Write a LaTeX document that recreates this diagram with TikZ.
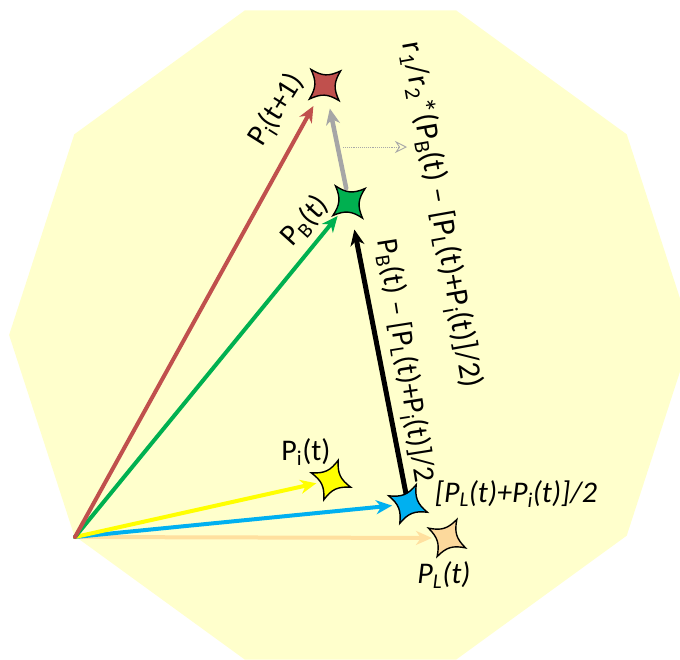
\documentclass[tikz,border=0pt]{standalone}
\usepackage{fontspec}
\setmainfont{Carlito}
\usetikzlibrary{arrows.meta}
\definecolor{bgyel}{HTML}{FFFFCC}
\definecolor{cred}{HTML}{C0504D}
\definecolor{cgreen}{HTML}{00B050}
\definecolor{cyel}{HTML}{FFFF00}
\definecolor{cblue}{HTML}{00B0F0}
\definecolor{cpeach}{HTML}{FFE09F}
\definecolor{cpeachstar}{HTML}{FCD99C}
\definecolor{cgray}{HTML}{A6A6A6}
\definecolor{cdot}{HTML}{A8A8A8}
\tikzset{
  vec/.style={line width=4pt, line cap=round, -{Stealth[length=16pt,width=14pt,inset=5pt]}},
  starline/.style={draw=black, line width=1.4pt, line join=miter},
  lbl/.style={font=\fontsize{30}{33}\selectfont, inner sep=0pt, text=black},
}
\newcommand\fstar[3]{%
  \draw[starline, fill=#3, shift={(#1)}, rotate=#2]
    (0,21) .. controls (3.8,8.4) and (8.4,3.8) .. (21,0)
    .. controls (8.4,-3.8) and (3.8,-8.4) .. (0,-21)
    .. controls (-3.8,-8.4) and (-8.4,-3.8) .. (-21,0)
    .. controls (-8.4,3.8) and (-3.8,8.4) .. (0,21) -- cycle;}
\begin{document}
\begin{tikzpicture}[x=1pt,y=-1pt]
\useasboundingbox (0,0) rectangle (680,659);
\begin{scope}
  \clip (0,0) rectangle (680,659);
  \fill[bgyel] (691.9,335) -- (626.7,134.3) -- (456.0,10.3) -- (245.0,10.3) -- (74.3,134.3)
    -- (9.1,335) -- (74.3,535.7) -- (245.0,659.7) -- (456.0,659.7) -- (626.7,535.7) -- cycle;
\end{scope}
% points
\coordinate (O) at (75,537);
\coordinate (rs) at (325,85);
\coordinate (gs) at (349,202);
\coordinate (ys) at (331,480);
\coordinate (bs) at (408,504);
\coordinate (ps) at (447,538);
\coordinate (da) at (343,147);
\coordinate (db) at (407,147);
% vectors
\draw[vec, cpeach, shorten >=15pt] (O) -- (ps);
\draw[vec, cblue, shorten >=16pt] (O) -- (bs);
\draw[vec, cyel, shorten >=15pt] (O) -- (ys);
\draw[vec, cgreen, shorten >=18pt] (O) -- (gs);
\draw[vec, cred, shorten >=24pt] (O) -- (rs);
\draw[vec, cgray, line width=4.5pt, shorten <=14pt, shorten >=24pt] (gs) -- (rs);
\draw[vec, black, line width=5pt, shorten <=10pt, shorten >=28pt] (bs) -- (gs);
\draw[cdot, line width=0.9pt, densely dotted, -{Stealth[open, length=12pt, width=12pt, inset=4pt, line width=0.9pt]}] (da) -- (db);
% stars
\fstar{rs}{42}{cred}
\fstar{gs}{40}{cgreen}
\fstar{ys}{-20}{cyel}
\fstar{bs}{-23}{cblue}
\fstar{ps}{-28}{cpeachstar}
% labels
\node[lbl, rotate=58] (lPi1) at (277,110) {P\textsubscript{i}(t+1)};
\node[lbl, rotate=48] (lPB) at (305,221) {P\textsubscript{B}(t)};
\node[lbl, rotate=-81] (ldiff) at (405,361) {P\textsubscript{B}(t) – [P\textsubscript{L}(t)+P\textsubscript{i}(t)]/2};
\node[lbl, font=\fontsize{31.5}{34}\selectfont, rotate=-80] (lr) at (441,215) {r\textsubscript{1}/r\textsubscript{2}*(P\textsubscript{B}(t) – [P\textsubscript{L}(t)+P\textsubscript{i}(t)]/2)};
\node[lbl] (lPit) at (306,452) {P\textsubscript{i}(t)};
\node[lbl] (lmid) at (516,494) {\itshape [P\textsubscript{L}(t)+P\textsubscript{i}(t)]/2};
\node[lbl] (lPL) at (444,575) {\itshape P\textsubscript{L}(t)};
\end{tikzpicture}
\end{document}
